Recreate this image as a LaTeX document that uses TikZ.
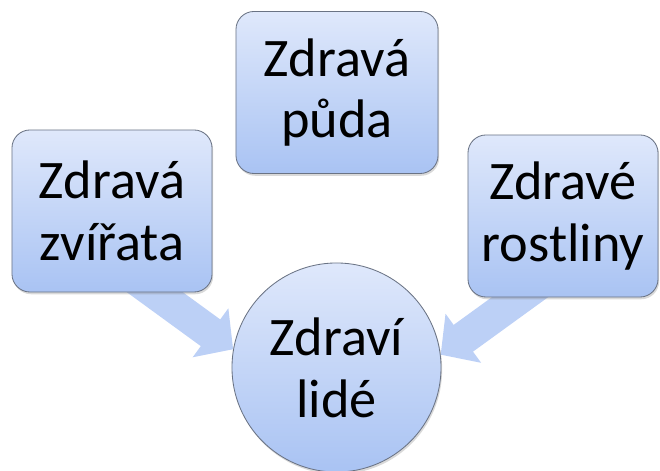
\documentclass[tikz,border=0pt]{standalone}
\usepackage{fontspec}
\setmainfont{Carlito}
\usepackage{tikz}
\usetikzlibrary{arrows.meta,backgrounds,shadows}
\definecolor{hellblau}{HTML}{DFE8FB}
\definecolor{dunkelblau}{HTML}{A9C3F3}
\definecolor{pfeilblau}{HTML}{BCD0F6}
\definecolor{rand}{HTML}{6A7384}

\begin{document}
\begin{tikzpicture}[x=0.025cm,y=-0.025cm,
  kasten/.style={draw=rand, line width=0.6pt, rounded corners=0.45cm,
    top color=hellblau, bottom color=dunkelblau, minimum height=4.05cm,
    align=center, font=\fontsize{38.6}{44}\selectfont,
    drop shadow={opacity=0.3, shadow xshift=0.8pt, shadow yshift=-1.6pt}},
  kreis/.style={kasten, circle, rounded corners=0pt, minimum size=5.225cm, inner sep=0pt},
  pfeil/.style={draw=pfeilblau, line width=0.825cm,
    -{Triangle[length=0.7cm,width=1.475cm]}}]
\useasboundingbox (0,0) rectangle (660,471);
\node[kasten, minimum width=5.05cm] (puda) at (337,92.5) {Zdravá\\půda};
\node[kasten, minimum width=5cm] (zvirata) at (112,211) {Zdravá\\zvířata};
\node[kasten, minimum width=4.75cm] (rostliny) at (563,216) {Zdravé\\rostliny};
\node[kreis] (lide) at (336.5,367.5) {Zdraví\\lidé};
\begin{scope}[on background layer]
\draw[pfeil] ([yshift=-1.25cm]zvirata.center) -- (lide.170);
\draw[pfeil] ([yshift=-1.25cm]rostliny.center) -- (lide.7);
\end{scope}
\end{tikzpicture}
\end{document}
